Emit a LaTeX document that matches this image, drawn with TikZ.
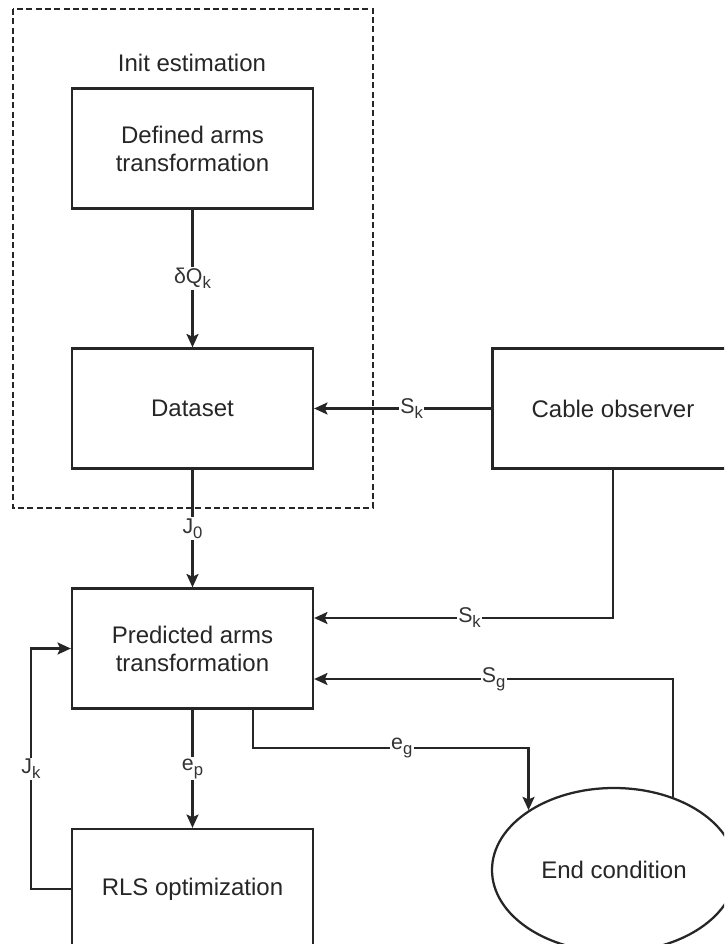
\documentclass[tikz,border=0pt]{standalone}
\usepackage{fontspec}
\setmainfont{Liberation Sans}
\usepackage{tikz}
\usetikzlibrary{arrows.meta, shapes.geometric}

\newcommand{\lowsub}[1]{\raisebox{-0.45ex}{\fontsize{12.5}{12.5}\selectfont #1}}

\tikzset{
  block/.style={draw=black!85, line width=1.7pt, minimum width=180.75pt, minimum height=90pt, align=center, inner sep=0.75pt, text=black!85, font=\fontsize{18}{21}\selectfont},
  endshape/.style={ellipse, draw=black!85, line width=1.7pt, minimum width=183pt, minimum height=123pt, inner sep=0.75pt, text=black!85, font=\fontsize{18}{21}\selectfont},
  conn/.style={draw=black!85, line width=1.7pt, -{Stealth[length=10pt,width=9pt,inset=2pt]}},
  lbl/.style={fill=white, inner sep=1pt, text=black!80, font=\fontsize{16}{18}\selectfont}
}

\begin{document}
\begin{tikzpicture}[x=0.75pt,y=0.75pt,yscale=-1,xscale=1]
\useasboundingbox (0,0) rectangle (724,944);
\clip (0,0) rectangle (724,944);

%Shape: Rectangle, dashed group frame
\draw [black!85, line width=1.3pt, dash pattern={on 4.5pt off 2.5pt}] (13,9) rectangle (373,508);
% Text Node
\node (inittitle) [inner sep=0.75pt, text=black!85, font=\fontsize{18}{21}\selectfont] at (192,63) {Init estimation};

%Shape: Rectangle
\node (defined) [block] at (192.5,148.5) {Defined arms\\transformation};
%Shape: Rectangle
\node (dataset) [block] at (192.5,408.5) {Dataset};
%Shape: Rectangle
\node (cable) [block] at (613,408.5) {Cable observer};
%Shape: Rectangle
\node (predicted) [block] at (192.5,648.5) {Predicted arms\\transformation};
%Shape: Rectangle
\node (rls) [block] at (192.5,889) {RLS optimization};
%Shape: Ellipse
\node (endc) [endshape] at (614,870) {End condition};

% bend levels
\coordinate (skline) at (0,618);
\coordinate (sgline) at (0,679);
\coordinate (egbend) at (253,748);

%Straight Lines
\draw [conn] (defined.south) -- (dataset.north) node [lbl, midway] {δQ\lowsub{k}};
\draw [conn] (cable.west) -- (dataset.east) node [lbl, pos=0.45] {S\lowsub{k}};
\draw [conn] (dataset.south) -- (predicted.north) node [lbl, midway] {J\lowsub{0}};
\draw [conn] (cable.south) |- (predicted.east |- skline) node [lbl, pos=0.74] {S\lowsub{k}};
\draw [conn] (predicted.south) -- (rls.north) node [lbl, midway] {e\lowsub{p}};
\draw [conn] (rls.west) -- ++(-40,0) |- (predicted.west) node [lbl, pos=0.25] {J\lowsub{k}};
\draw [conn] (predicted.south -| egbend) -- (egbend) -| (endc.145) node [lbl, pos=0.27] {e\lowsub{g}};
\draw [conn] (endc.51) |- (predicted.east |- sgline) node [lbl, pos=0.75] {S\lowsub{g}};

\end{tikzpicture}
\end{document}
